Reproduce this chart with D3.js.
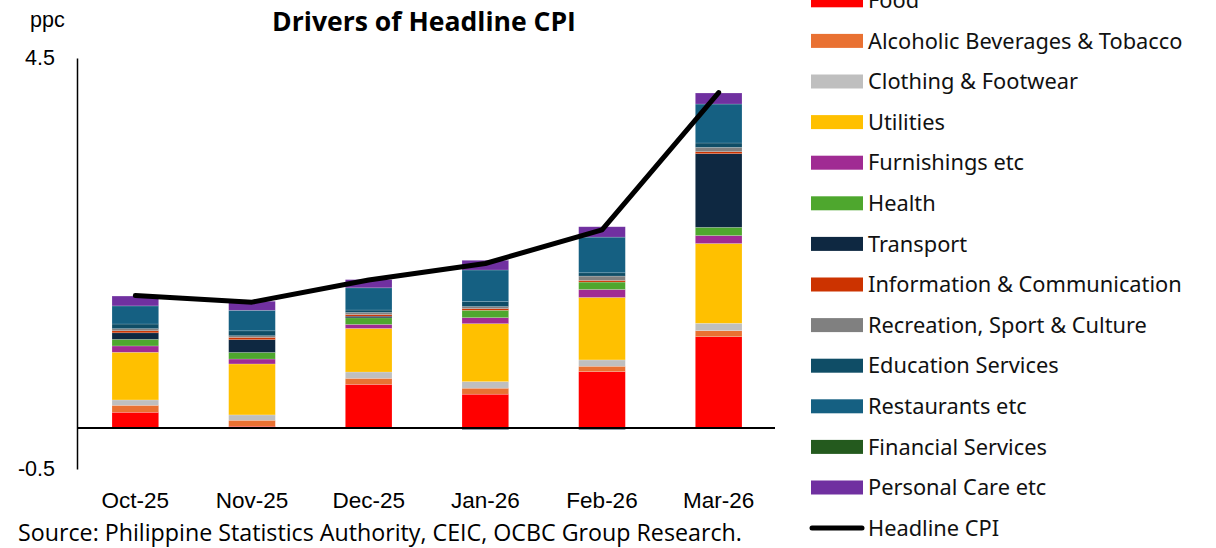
<!DOCTYPE html>
<html>
<head>
<meta charset="utf-8">
<script src="https://cdn.jsdelivr.net/npm/d3@7"></script>
<style>
  body { margin: 0; background: #fff; }
  svg { display: block; }
</style>
</head>
<body>
<div id="chart"></div>
<script>
// months on the x axis
const months = ['Oct-25', 'Nov-25', 'Dec-25', 'Jan-26', 'Feb-26', 'Mar-26'];

// contributions to headline CPI, ppc
const food          = [0.19, 0.02, 0.53, 0.41, 0.685, 1.11];
const alcohol       = [0.085, 0.073, 0.073, 0.073, 0.065, 0.073];
const clothing      = [0.065, 0.065, 0.077, 0.08, 0.077, 0.09];
const utilities     = [0.58, 0.62, 0.53, 0.705, 0.76, 0.97];
const furnishings   = [0.077, 0.06, 0.049, 0.073, 0.097, 0.097];
const health        = [0.08, 0.08, 0.08, 0.09, 0.09, 0.1];
const transport     = [0.08, 0.155, 0.02, -0.02, -0.02, 0.896];
const infoComm      = [0.025, 0.028, 0.02, 0.02, 0.02, 0.024];
const recreation    = [0.025, 0.02, 0.025, 0.025, 0.053, 0.053];
const education     = [0.057, 0.06, 0.03, 0.06, 0.04, 0.053];
const restaurants   = [0.22, 0.25, 0.27, 0.385, 0.434, 0.474];
const financial     = [0, 0, 0, 0, 0, 0];
const personalCare  = [0.12, 0.11, 0.1, 0.118, 0.126, 0.134];

const headlineCPI   = [1.61, 1.53, 1.8, 2.0, 2.41, 4.08];

const yTicks = [-0.5, 4.5];

const series = [
    { name: 'Food', values: food, color: '#FF0000' },
    { name: 'Alcoholic Beverages & Tobacco', values: alcohol, color: '#E97132' },
    { name: 'Clothing & Footwear', values: clothing, color: '#BFBFBF' },
    { name: 'Utilities', values: utilities, color: '#FFC000' },
    { name: 'Furnishings etc', values: furnishings, color: '#A02B93' },
    { name: 'Health', values: health, color: '#4EA72E' },
    { name: 'Transport', values: transport, color: '#0E2841' },
    { name: 'Information & Communication', values: infoComm, color: '#CC3300' },
    { name: 'Recreation, Sport & Culture', values: recreation, color: '#808080' },
    { name: 'Education Services', values: education, color: '#0F4D66' },
    { name: 'Restaurants etc', values: restaurants, color: '#156082' },
    { name: 'Financial Services', values: financial, color: '#245A1E' },
    { name: 'Personal Care etc', values: personalCare, color: '#7030A0' }
];

const width = 1216, height = 548;
const plotLeft = 77, plotRight = 777, plotTop = 58, plotBottom = 469;

// scale a text's font size so it spans the given width
function fitWidth(sel, target) {
    sel.each(function() {
        const node = this;
        const size = parseFloat(node.getAttribute('font-size'));
        const w = node.getComputedTextLength();
        if (w > 0) node.setAttribute('font-size', (size * target / w).toFixed(2));
    });
}

const svg = d3.select('#chart').append('svg')
    .attr('width', width)
    .attr('height', height);

const xScale = d3.scaleBand()
    .domain(months)
    .range([plotLeft, plotRight])
    .paddingInner(0.6)
    .paddingOuter(0.3);

const yScale = d3.scaleLinear()
    .domain([-0.5, 4.5])
    .range([plotBottom, plotTop]);

// build table for d3.stack
const table = months.map((m, i) => {
    const row = { month: m };
    series.forEach(s => row[s.name] = s.values[i]);
    return row;
});

const stacked = d3.stack()
    .keys(series.map(s => s.name))
    .offset(d3.stackOffsetDiverging)(table);

svg.append('g')
    .selectAll('g')
    .data(stacked)
    .enter()
    .append('g')
    .attr('fill', (d, i) => series[i].color)
    .selectAll('rect')
    .data(d => d)
    .enter()
    .append('rect')
    .attr('x', d => xScale(d.data.month))
    .attr('width', xScale.bandwidth())
    .attr('y', d => yScale(Math.max(d[0], d[1])))
    .attr('height', d => Math.abs(yScale(d[0]) - yScale(d[1])))
    .attr('stroke', '#fff')
    .attr('stroke-opacity', 0.3)
    .attr('stroke-width', 0.6);

// zero line
svg.append('line')
    .attr('x1', plotLeft)
    .attr('x2', plotRight - 2)
    .attr('y1', yScale(0))
    .attr('y2', yScale(0))
    .attr('stroke', '#000')
    .attr('stroke-width', 2);

// y axis
const yAxis = d3.axisLeft(yScale)
    .tickValues(yTicks)
    .tickFormat(d => d.toFixed(1))
    .tickSize(0)
    .tickSizeOuter(0)
    .tickPadding(22);

const yAxisGroup = svg.append('g')
    .attr('transform', `translate(${plotLeft}, 0)`)
    .call(yAxis);

yAxisGroup.select('.domain').attr('stroke', '#000').attr('stroke-width', 1.5);
yAxisGroup.selectAll('text')
    .attr('font-family', '"Liberation Sans", Arial, sans-serif')
    .attr('font-size', 21.5)
    .attr('fill', '#000');

// x axis
const xAxis = d3.axisBottom(xScale).tickSize(0).tickPadding(0);
const xAxisGroup = svg.append('g')
    .attr('transform', `translate(0, 492)`)
    .call(xAxis);
xAxisGroup.select('.domain').remove();
xAxisGroup.selectAll('text')
    .attr('font-family', '"Liberation Sans", Arial, sans-serif')
    .attr('font-size', 22.5)
    .attr('fill', '#000');

// headline line
const line = d3.line()
    .x((d, i) => xScale(months[i]) + xScale.bandwidth() / 2)
    .y(d => yScale(d));

svg.append('path')
    .datum(headlineCPI)
    .attr('d', line)
    .attr('fill', 'none')
    .attr('stroke', '#000')
    .attr('stroke-width', 5)
    .attr('stroke-linecap', 'round')
    .attr('stroke-linejoin', 'round');

// texts
svg.append('text')
    .attr('x', 424)
    .attr('y', 31)
    .attr('text-anchor', 'middle')
    .attr('font-family', '"Open Sans", Lato, sans-serif')
    .attr('font-weight', 'bold')
    .attr('font-size', 22)
    .text('Drivers of Headline CPI')
    .call(fitWidth, 304);

svg.append('text')
    .attr('x', 30)
    .attr('y', 27)
    .attr('font-family', '"Liberation Sans", Arial, sans-serif')
    .attr('font-size', 21.5)
    .text('ppc');

svg.append('text')
    .attr('x', 18)
    .attr('y', 541)
    .attr('font-family', '"Open Sans", Lato, sans-serif')
    .attr('font-size', 20)
    .text('Source: Philippine Statistics Authority, CEIC, OCBC Group Research.')
    .call(fitWidth, 724);

// legend
const legendItems = series.map(s => ({ name: s.name, color: s.color, type: 'bar' }))
    .concat([{ name: 'Headline CPI', color: '#000', type: 'line' }]);

const legend = svg.append('g')
    .selectAll('g')
    .data(legendItems)
    .enter()
    .append('g')
    .attr('transform', (d, i) => `translate(810, ${0.3 + i * 40.6})`);

legend.filter(d => d.type === 'bar')
    .append('rect')
    .attr('x', 1)
    .attr('y', -7)
    .attr('width', 52)
    .attr('height', 14)
    .attr('fill', d => d.color);

legend.filter(d => d.type === 'line')
    .append('line')
    .attr('x1', 2)
    .attr('x2', 52)
    .attr('y1', 0)
    .attr('y2', 0)
    .attr('stroke', '#000')
    .attr('stroke-width', 5)
    .attr('stroke-linecap', 'round');

legend.append('text')
    .attr('x', 58)
    .attr('y', 0)
    .attr('dy', '0.35em')
    .attr('font-family', '"Noto Sans", sans-serif')
    .attr('font-size', 21.8)
    .attr('fill', '#111')
    .text(d => d.name);
</script>
</body>
</html>
